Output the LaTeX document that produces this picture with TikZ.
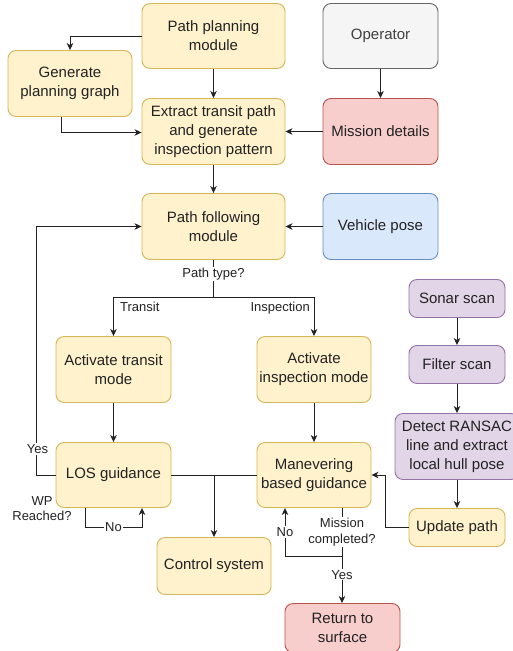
\documentclass[tikz,border=0pt]{standalone}
\usepackage{fontspec}
\setmainfont{Liberation Sans}
\usetikzlibrary{arrows.meta}
\definecolor{yfill}{HTML}{FFF2CC}\definecolor{ydraw}{HTML}{D6B656}
\definecolor{gfill}{HTML}{F5F5F5}\definecolor{gdraw}{HTML}{666666}
\definecolor{rfill}{HTML}{F8CECC}\definecolor{rdraw}{HTML}{B85450}
\definecolor{bfill}{HTML}{DAE8FC}\definecolor{bdraw}{HTML}{6C8EBF}
\definecolor{pfill}{HTML}{E1D5E7}\definecolor{pdraw}{HTML}{9673A6}
\definecolor{txt}{HTML}{222222}
\definecolor{lnk}{HTML}{222222}
\begin{document}
\begin{tikzpicture}[x=1pt,y=-1pt,
  box/.style={draw, rounded corners=8pt, line width=0.9pt, align=center,
    font=\fontsize{15}{19}\selectfont, text=txt, inner sep=0pt},
  ylw/.style={box, fill=yfill, draw=ydraw},
  gry/.style={box, fill=gfill, draw=gdraw, text=black!75},
  red/.style={box, fill=rfill, draw=rdraw},
  blu/.style={box, fill=bfill, draw=bdraw},
  prp/.style={box, fill=pfill, draw=pdraw},
  sz/.style 2 args={minimum width=#1pt, minimum height=#2pt},
  link/.style={draw=lnk, line width=0.9pt},
  arr/.style={link, -{Stealth[length=7pt,width=6.5pt,inset=2pt]}},
  lbl/.style={fill=white, font=\fontsize{13}{15.5}\selectfont, text=txt,
    inner sep=1pt, align=center}]
\useasboundingbox (0,0) rectangle (512,651);

% planning part
\node[ylw, sz={143}{65}] (ppm) at (213.5,36) {Path planning\\module};
\node[ylw, sz={124}{66}] (gen) at (70,83.5) {Generate\\planning graph};
\node[ylw, sz={143}{66}] (ext) at (213.5,131.5) {Extract transit path\\and generate\\inspection pattern};
\node[gry, sz={115}{65}] (op) at (380.5,36) {Operator};
\node[red, sz={115}{66}] (mis) at (380.5,131.5) {Mission details};

% path following
\node[ylw, sz={143}{66}] (pf) at (213.5,226.5) {Path following\\module};
\node[blu, sz={115}{66}] (veh) at (380.5,226.5) {Vehicle pose};
\node[ylw, sz={115}{66}] (tr) at (113.5,369.5) {Activate transit\\mode};
\node[ylw, sz={114}{66}] (insp) at (314,369.5) {Activate\\inspection mode};
\node[ylw, sz={115}{65}] (los) at (113.5,475) {LOS guidance};
\node[ylw, sz={114}{65}] (man) at (314,475) {Manevering\\based guidance};
\node[ylw, sz={114}{57}] (ctrl) at (214,566) {Control system};
\node[red, sz={115}{49}] (ret) at (342.5,628) {Return to\\surface};

% sonar chain
\node[prp, sz={96}{38}] (son) at (457,298.5) {Sonar scan};
\node[prp, sz={96}{38}] (fil) at (457,364.5) {Filter scan};
\node[prp, sz={124}{66}] (det) at (457,446.5) {Detect RANSAC\\line and extract\\local hull pose};
\node[ylw, sz={96}{38}] (upd) at (457,527.5) {Update path};

% planning connectors
\draw[arr] (ppm.west) -| (gen.north);
\draw[arr] ([xshift=-9pt]gen.south) |- ([yshift=-1pt]ext.west);
\draw[arr] (ppm) -- (ext);
\draw[arr] (op) -- (mis);
\draw[arr] (mis) -- (ext);
\draw[arr] (ext) -- (pf);
\draw[arr] (veh) -- (pf);

% path type split
\coordinate (split) at (213.5,297);
\draw[link] (pf.south) -- node[lbl, pos=0.37] {Path type?} (split);
\draw[arr] (split) -| (tr.north);
\draw[arr] (split) -| (insp.north);
\node[lbl, fill=none, anchor=base west] (tlab) at (119,311) {Transit};
\node[lbl, fill=none, anchor=base east] (ilab) at (311,311) {Inspection};
\draw[arr] (tr) -- (los);
\draw[arr] (insp) -- (man);

% guidance to control
\coordinate (cj) at (ctrl.north |- los.east);
\draw[link] (los.east) -- (man.west);
\draw[arr] (cj) -- (ctrl.north);

% waypoint loop
\draw[arr] (los.west) -- ++(-19,0) |- (pf.west);
\node[lbl] (yes1) at (37.5,449) {Yes};
\node[lbl, fill=none] (wp) at (42,508.5) {WP\\Reached?};
\draw[arr] ([xshift=-28.5pt]los.south) -- ++(0,19)
  -- node[lbl] {No} ++(57,0) -- ([xshift=28.5pt]los.south);

% mission completion
\coordinate (mj) at ([xshift=28pt]man.south |- 0,556);
\draw[link] ([xshift=28pt]man.south) -- node[lbl, pos=0.5] {Mission\\completed?} (mj);
\draw[arr] (mj) -| node[lbl, pos=0.75] {No} ([xshift=-29pt]man.south);
\draw[arr] (mj) -- node[lbl, pos=0.4] {Yes} (mj |- ret.north);

% sonar connectors
\draw[arr] (son) -- (fil);
\draw[arr] (fil) -- (det);
\draw[arr] (det) -- (upd);
\draw[arr] (upd.west) -- ++(-23,0) |- (man.east);
\end{tikzpicture}
\end{document}
